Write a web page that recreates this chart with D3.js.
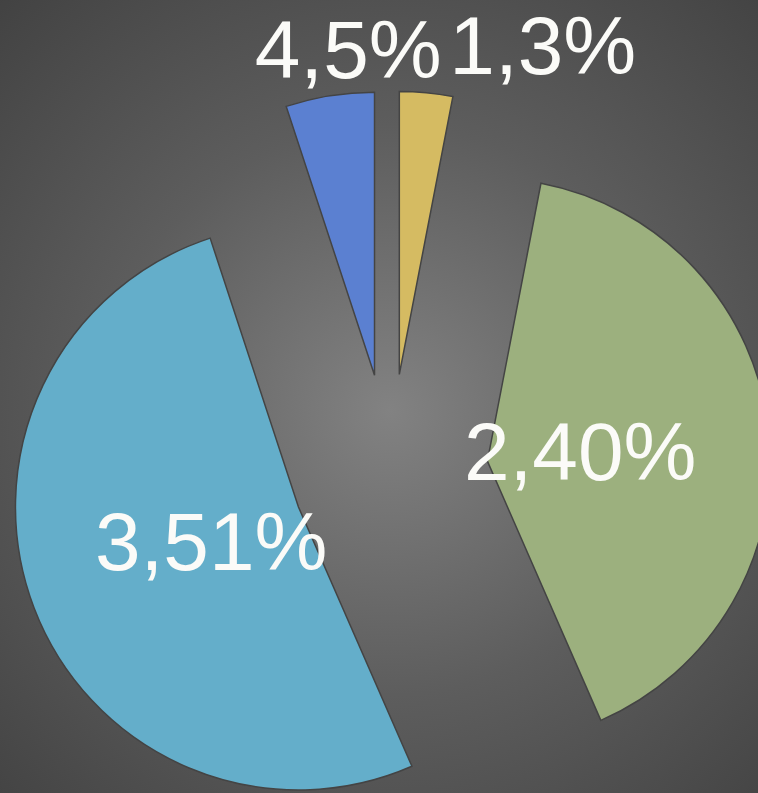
<!DOCTYPE html>
<html lang="pt">
  <head>
    <title>Pie Chart</title>
    <script src="https://d3js.org/d3.v7.min.js"></script>
    <style>
      body {
        margin: 0;
        background: #4a4a4a;
      }

      .slice {
        stroke: #444;
        stroke-width: 1.5px;
      }

      .label {
        fill: #fbfbf8;
        font-family: "Liberation Sans", Arial, sans-serif;
        font-size: 82px;
      }
    </style>
  </head>
  <body>
    <script>
      const categories = ['1', '2', '3', '4'];
      const values = [3, 40, 51, 5];
      const labels = ['1,3%', '2,40%', '3,51%', '4,5%'];

      const w = 758;
      const h = 793;
      const cx = 390;
      const cy = 472;
      const radius = 283;
      const explode = 98;

      const colors = ['#d5bb62', '#9cb07e', '#64aeca', '#5b80d1'];

      // labels that sit outside the pie, and how far they are pushed sideways
      const outside = [true, false, false, true];
      const nudge = [112, 0, 0, 26];

      const svg = d3.select('body')
                    .append('svg')
                    .attr('width', w)
                    .attr('height', h);

      const grad = svg.append('defs')
                      .append('radialGradient')
                      .attr('id', 'bg')
                      .attr('gradientUnits', 'userSpaceOnUse')
                      .attr('cx', 390)
                      .attr('cy', 410)
                      .attr('r', 570);
      grad.append('stop').attr('offset', 0).attr('stop-color', '#828282');
      grad.append('stop').attr('offset', 0.5).attr('stop-color', '#5d5d5d');
      grad.append('stop').attr('offset', 1).attr('stop-color', '#424242');

      svg.append('rect')
         .attr('width', w)
         .attr('height', h)
         .attr('fill', 'url(#bg)');

      const pie = d3.pie()
                    .sort(null)
                    .value(d => d);

      const arcs = pie(values);

      const arc = d3.arc()
                    .innerRadius(0)
                    .outerRadius(radius);

      const offset = a => {
        const mid = (a.startAngle + a.endAngle) / 2;
        return [cx + Math.sin(mid) * explode, cy - Math.cos(mid) * explode];
      };

      const slices = svg.selectAll('g.part')
                        .data(arcs)
                        .enter()
                        .append('g')
                        .attr('class', 'part')
                        .attr('transform', d => `translate(${offset(d)})`);

      slices.append('path')
            .attr('class', 'slice')
            .attr('d', arc)
            .attr('fill', (d, i) => colors[i])
            .attr('data-category', (d, i) => categories[i]);

      const innerLabel = d3.arc()
                           .innerRadius(radius * 0.33)
                           .outerRadius(radius * 0.33);

      const outerLabel = d3.arc()
                           .innerRadius(radius + 48)
                           .outerRadius(radius + 48);

      slices.append('text')
            .attr('class', 'label')
            .attr('text-anchor', 'middle')
            .attr('dy', '0.36em')
            .attr('transform', (d, i) => {
              const p = outside[i] ? outerLabel.centroid(d) : innerLabel.centroid(d);
              return `translate(${p[0] + nudge[i]}, ${p[1]})`;
            })
            .text((d, i) => labels[i]);
    </script>
  </body>
</html>
